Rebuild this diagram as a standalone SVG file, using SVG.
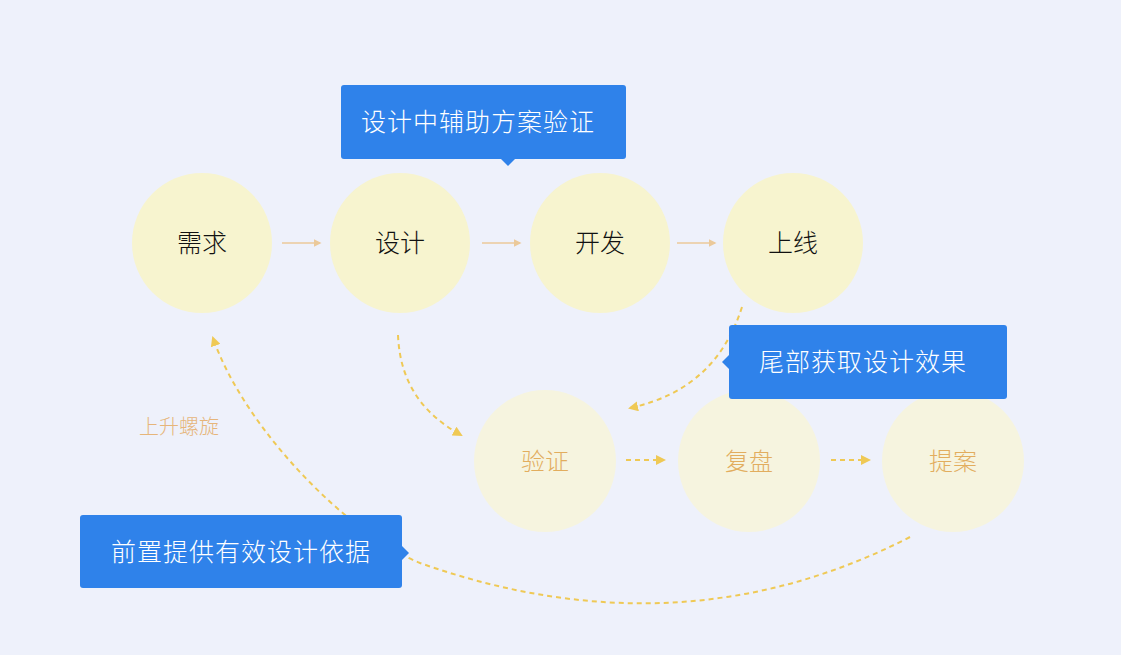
<svg xmlns="http://www.w3.org/2000/svg" width="1121" height="655" viewBox="0 0 1121 655">
<defs>
<style>
.bg{fill:#eef1fb}
.top{fill:#f7f4cf}
.bot{fill:#f6f4df}
.t1{font-family:"Noto Sans CJK SC","Noto Sans",sans-serif;font-size:25px;fill:#111;text-anchor:middle;font-weight:300}
.t2{font-family:"Noto Sans CJK SC","Noto Sans",sans-serif;font-size:24px;fill:#e2ad5e;text-anchor:middle;font-weight:300}
.box{fill:#2f82ea}
.bt{font-family:"Noto Sans CJK SC","Noto Sans",sans-serif;font-size:25px;fill:#ffffff;text-anchor:middle;letter-spacing:1px;font-weight:300}
.lbl{font-family:"Noto Sans CJK SC","Noto Sans",sans-serif;font-size:20px;fill:#e6b57a;font-weight:300}
.solid{stroke:#ebc99a;stroke-width:1.5;fill:none}
.dash{stroke:#efc955;stroke-width:2;fill:none;stroke-dasharray:5 4}
</style>
<marker id="ah" viewBox="0 0 10 10" refX="8" refY="5" markerWidth="5" markerHeight="5" orient="auto" markerUnits="strokeWidth">
<path d="M0,0 L10,5 L0,10 z" fill="#ebc99a"/>
</marker>
<marker id="ay" viewBox="0 0 10 10" refX="8" refY="5" markerWidth="5" markerHeight="5" orient="auto" markerUnits="strokeWidth">
<path d="M0,0 L10,5 L0,10 z" fill="#efc955"/>
</marker>
</defs>
<rect class="bg" x="0" y="0" width="1121" height="655"/>

<g id="connectors">
<line class="solid" x1="282" y1="243" x2="320" y2="243" marker-end="url(#ah)"/>
<line class="solid" x1="482" y1="243" x2="520" y2="243" marker-end="url(#ah)"/>
<line class="solid" x1="677" y1="243" x2="715" y2="243" marker-end="url(#ah)"/>
<path class="dash" d="M398,335 C400,385 425,415 461,435" marker-end="url(#ay)"/>
<path class="dash" d="M742,307 C725,360 690,395 630,408" marker-end="url(#ay)"/>
<line class="dash" x1="626" y1="460" x2="664" y2="460" marker-end="url(#ay)"/>
<line class="dash" x1="831" y1="460" x2="869" y2="460" marker-end="url(#ay)"/>
<path class="dash" d="M910,537 Q680,655 420,563 C350,535 245,430 213,338" marker-end="url(#ay)"/>
</g>

<g id="node-xuqiu"><circle class="top" cx="202" cy="243" r="70"/><text class="t1" x="202" y="252">需求</text></g>
<g id="node-sheji"><circle class="top" cx="400" cy="243" r="70"/><text class="t1" x="400" y="252">设计</text></g>
<g id="node-kaifa"><circle class="top" cx="600" cy="243" r="70"/><text class="t1" x="600" y="252">开发</text></g>
<g id="node-shangxian"><circle class="top" cx="793" cy="243" r="70"/><text class="t1" x="793" y="252">上线</text></g>

<g id="node-yanzheng"><circle class="bot" cx="545" cy="461" r="71"/><text class="t2" x="545" y="470">验证</text></g>
<g id="node-fupan"><circle class="bot" cx="749" cy="461" r="71"/><text class="t2" x="749" y="470">复盘</text></g>
<g id="node-tian"><circle class="bot" cx="953" cy="461" r="71"/><text class="t2" x="953" y="470">提案</text></g>

<g id="label-spiral"><text class="lbl" x="139" y="434">上升螺旋</text></g>

<g id="callout-top">
<rect class="box" x="341" y="85" width="285" height="74" rx="3"/>
<path class="box" d="M500,158 L508,166 L516,158 z"/>
<text class="bt" x="478" y="131">设计中辅助方案验证</text>
</g>
<g id="callout-right">
<rect class="box" x="729" y="325" width="278" height="74" rx="3"/>
<path class="box" d="M730,354 L722,362 L730,370 z"/>
<text class="bt" x="863" y="371">尾部获取设计效果</text>
</g>
<g id="callout-bottom">
<rect class="box" x="80" y="515" width="322" height="73" rx="3"/>
<path class="box" d="M401,545 L409,553 L401,561 z"/>
<text class="bt" x="241" y="561">前置提供有效设计依据</text>
</g>
</svg>
